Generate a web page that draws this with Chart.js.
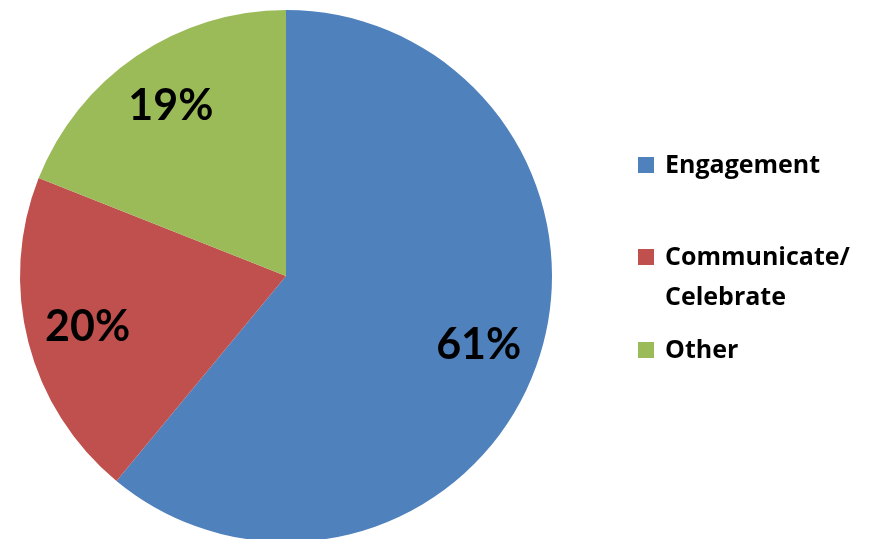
<!DOCTYPE html>
<html>
<head>
<meta charset="utf-8">
<script src="https://cdn.jsdelivr.net/npm/chart.js@4.4.0/dist/chart.umd.min.js"></script>
<style>
html,body{margin:0;padding:0;background:#fff;overflow:hidden;width:878px;height:539px;}
#wrap{position:absolute;left:0;top:0;width:878px;height:552px;}
</style>
</head>
<body>
<div id="wrap"><canvas id="c"></canvas></div>
<script>
const categories = ['Engagement', 'Communicate/ Celebrate', 'Other'];
const values = [61, 20, 19];
const colors = ['#4F81BD', '#C0504D', '#9BBB59'];
const FONT = 'Lato, "Open Sans", sans-serif';
const LEGEND_FONT = '"Open Sans", Lato, sans-serif';

const pctLabels = {
  id: 'pctLabels',
  afterDatasetsDraw(chart) {
    const ctx = chart.ctx;
    const meta = chart.getDatasetMeta(0);
    const total = values.reduce((a, b) => a + b, 0);
    ctx.save();
    ctx.font = 'bold 43px ' + FONT;
    ctx.fillStyle = '#000';
    ctx.textAlign = 'center';
    ctx.textBaseline = 'middle';
    meta.data.forEach((arc, i) => {
      const p = arc.getProps(['x', 'y', 'startAngle', 'endAngle', 'outerRadius']);
      const mid = (p.startAngle + p.endAngle) / 2;
      const r = p.outerRadius * 0.77;
      const x = p.x + Math.cos(mid) * r;
      const y = p.y + Math.sin(mid) * r;
      ctx.fillText(Math.round(values[i] / total * 100) + '%', x, y);
    });
    ctx.restore();
  }
};

const sideLegend = {
  id: 'sideLegend',
  afterDraw(chart) {
    const ctx = chart.ctx;
    ctx.save();
    ctx.font = 'bold 25px ' + LEGEND_FONT;
    ctx.fillStyle = '#000';
    ctx.textBaseline = 'alphabetic';
    const boxX = 638, textX = 665, box = 16;
    let y = 173;
    categories.forEach((lab, i) => {
      const lines = lab.split(/(?<=\/)\s+/);
      ctx.fillStyle = colors[i];
      ctx.fillRect(boxX, y - box, box, box);
      ctx.fillStyle = '#000';
      lines.forEach((ln, j) => ctx.fillText(ln, textX, y + j * 40));
      y += (lines.length - 1) * 40 + (i === 0 ? 92 : 53);
    });
    ctx.restore();
  }
};

new Chart(document.getElementById('c'), {
  type: 'pie',
  data: {
    labels: categories,
    datasets: [{
      data: values,
      backgroundColor: colors,
      borderWidth: 0
    }]
  },
  options: {
    responsive: true,
    maintainAspectRatio: false,
    animation: false,
    layout: { padding: { left: 20, right: 326, top: 10, bottom: 10 } },
    plugins: { legend: { display: false }, tooltip: { enabled: false } }
  },
  plugins: [pctLabels, sideLegend]
});
</script>
</body>
</html>
